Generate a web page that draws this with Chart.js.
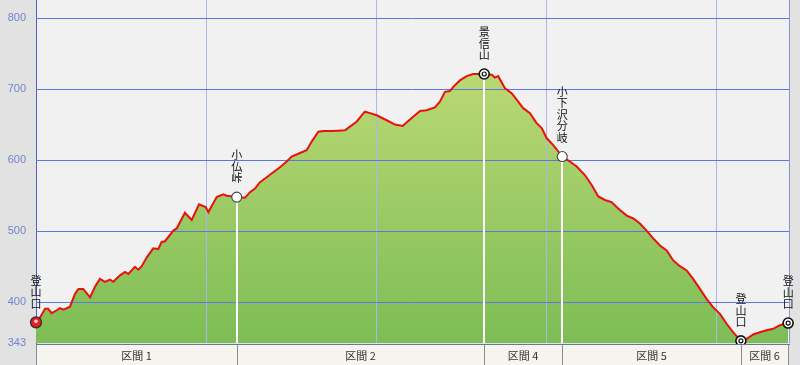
<!DOCTYPE html>
<html>
<head>
<meta charset="utf-8">
<script src="https://cdn.jsdelivr.net/npm/chart.js@4"></script>
<style>
	html, body { margin: 0; padding: 0; background: #e2e2e2; }
	canvas { display: block; }
</style>
</head>
<body>
<canvas id="profile" width="800" height="365"></canvas>
<script>
// distance (km) and elevation (m) along the route
var distKm = [0, 0.024, 0.053, 0.072, 0.092, 0.122, 0.141, 0.161, 0.2, 0.229, 0.249, 0.278, 0.318, 0.347, 0.376, 0.406, 0.435, 0.455, 0.494, 0.524, 0.543, 0.582, 0.602, 0.622, 0.651, 0.69, 0.719, 0.739, 0.759, 0.808, 0.828, 0.876, 0.916, 0.959, 0.998, 1.014, 1.063, 1.102, 1.122, 1.161, 1.181,
	1.229, 1.259, 1.288, 1.318, 1.357, 1.396, 1.435, 1.475, 1.504, 1.543, 1.592, 1.622, 1.661, 1.69, 1.749, 1.818, 1.847, 1.886, 1.916, 1.935, 1.965, 2.004, 2.063, 2.112, 2.157, 2.19, 2.219, 2.259, 2.298, 2.347, 2.376, 2.406, 2.435, 2.455, 2.494, 2.534, 2.572, 2.612, 2.637,
	2.681, 2.7, 2.719, 2.759, 2.798, 2.828, 2.866, 2.906, 2.945, 2.975, 3.004, 3.043, 3.096,
	3.141, 3.181, 3.229, 3.269, 3.308, 3.347, 3.386, 3.425, 3.475, 3.514, 3.553, 3.592, 3.631, 3.671, 3.71, 3.749, 3.788, 3.828, 3.866, 3.906, 3.945, 3.984, 4.024, 4.063, 4.102, 4.147,
	4.181, 4.219, 4.259, 4.298, 4.337, 4.376, 4.406, 4.425]
var elevM = [372, 379, 391, 391, 385, 389, 392, 390, 394, 412, 419, 419, 407, 422, 433, 429, 432, 429, 438, 443, 440, 450, 446, 451, 463, 476, 475, 485, 486, 501, 504, 526, 516, 538, 534, 527, 548, 552, 550, 549, 548,
	547, 555, 560, 569, 576, 583, 590, 598, 605, 609, 614, 626, 640, 641, 641, 642, 647, 654, 663, 668, 666, 663, 656, 650, 648, 655, 661, 669, 670, 674, 682, 696, 697, 703, 712, 718, 721, 721, 721,
	720, 716, 718, 701, 694, 685, 673, 666, 652, 645, 631, 621, 605,
	598, 591, 579, 565, 549, 544, 541, 532, 522, 518, 511, 501, 490, 480, 473, 459, 451, 445, 433, 419, 405, 393, 384, 370, 358, 346,
	349, 355, 358, 361, 363, 368, 370, 371]

var yTicks = [343, 400, 500, 600, 700, 800]
var xGridKm = [1, 2, 3, 4]

var wpNames = ['登山口', '小仏峠', '景信山', '小下沢分岐', '登山口', '登山口']
var wpDist = [0, 1.181, 2.637, 3.096, 4.147, 4.425]
var wpElev = [372, 548, 721, 605, 346, 371]
var wpMarks = ['start', 'o', 'oo', 'o', 'oo', 'oo']

var sectionNames = ['区間 1', '区間 2', '区間 4', '区間 5', '区間 6']

var jpFont = '"Noto Sans CJK JP", sans-serif'

var profilePlugin = {
	id: 'profile',
	beforeDraw: function(chart) {
		var c = chart.ctx, a = chart.chartArea
		c.save()
		c.fillStyle = '#f1f1f1'
		c.fillRect(a.left, a.top, a.right - a.left, a.bottom - a.top)
		c.restore()
	},
	// runs after the filler, so grid sits over the green area but under the line
	beforeDatasetsDraw: function(chart) {
		var c = chart.ctx, a = chart.chartArea
		var xs = chart.scales.x, ys = chart.scales.y
		c.save()
		c.lineWidth = 1
		c.strokeStyle = '#aab7ee'
		xGridKm.forEach(function(v) {
			var x = Math.round(xs.getPixelForValue(v)) + 0.5
			c.beginPath(); c.moveTo(x, a.top); c.lineTo(x, a.bottom); c.stroke()
		})
		c.strokeStyle = '#5b78e2'
		yTicks.slice(1).forEach(function(v) {
			var y = Math.round(ys.getPixelForValue(v)) + 0.5
			c.beginPath(); c.moveTo(a.left, y); c.lineTo(a.right, y); c.stroke()
		})
		c.strokeStyle = '#ffffff'
		c.lineWidth = 2
		for (var i = 1; i < wpDist.length - 1; i++) {
			var x = Math.round(xs.getPixelForValue(wpDist[i]))
			c.beginPath(); c.moveTo(x, ys.getPixelForValue(wpElev[i])); c.lineTo(x, a.bottom); c.stroke()
		}
		c.lineWidth = 1
		c.strokeStyle = '#8a96c8'
		c.beginPath(); c.moveTo(a.right + 0.5, a.top); c.lineTo(a.right + 0.5, a.bottom); c.stroke()
		c.restore()
	},
	afterDatasetsDraw: function(chart) {
		var c = chart.ctx
		var xs = chart.scales.x, ys = chart.scales.y
		c.save()
		for (var i = 0; i < wpDist.length; i++) {
			var x = xs.getPixelForValue(wpDist[i])
			var y = ys.getPixelForValue(wpElev[i])
			var m = wpMarks[i]
			if (m === 'start') {
				c.beginPath(); c.arc(x, y, 5.5, 0, Math.PI * 2)
				c.fillStyle = '#e02424'; c.fill()
				c.lineWidth = 1.2; c.strokeStyle = '#3a2626'; c.stroke()
				c.beginPath(); c.arc(x, y - 1, 1.8, 0, Math.PI * 2)
				c.fillStyle = '#ffd0d0'; c.fill()
			} else {
				c.beginPath(); c.arc(x, y, 5, 0, Math.PI * 2)
				c.fillStyle = '#ffffff'; c.fill()
				c.lineWidth = m === 'oo' ? 1.6 : 1.1
				c.strokeStyle = m === 'oo' ? '#111111' : '#444444'
				c.stroke()
				if (m === 'oo') {
					c.beginPath(); c.arc(x, y, 2, 0, Math.PI * 2)
					c.lineWidth = 1.2; c.stroke()
				}
			}
			// vertical label, one character per line
			var chars = wpNames[i].split('')
			c.fillStyle = '#111111'
			c.font = '11px ' + jpFont
			c.textAlign = 'center'
			c.textBaseline = 'middle'
			for (var k = 0; k < chars.length; k++) {
				var cy = y - 19 - (chars.length - 1 - k) * 11.5
				c.fillText(chars[k], x, cy)
			}
		}
		c.restore()
	},
	afterDraw: function(chart) {
		var c = chart.ctx, a = chart.chartArea
		var xs = chart.scales.x
		var top = a.bottom + 1, bottom = chart.height
		c.save()
		c.font = '11px ' + jpFont
		c.textAlign = 'center'
		c.textBaseline = 'middle'
		for (var i = 0; i < sectionNames.length; i++) {
			var x0 = Math.round(xs.getPixelForValue(wpDist[i]))
			var x1 = Math.round(xs.getPixelForValue(wpDist[i + 1]))
			c.fillStyle = '#f6f4ef'
			c.fillRect(x0, top, x1 - x0, bottom - top)
			c.strokeStyle = '#8c8c8c'
			c.lineWidth = 1
			c.strokeRect(x0 + 0.5, top + 0.5, x1 - x0, bottom - top)
			c.fillStyle = '#333333'
			c.fillText(sectionNames[i], (x0 + x1) / 2, (top + bottom) / 2 + 1)
		}
		c.strokeStyle = '#6c7796'
		c.beginPath(); c.moveTo(a.left, top + 0.5); c.lineTo(a.right + 1, top + 0.5); c.stroke()
		c.restore()
	}
}

var ctx = document.getElementById('profile')
var profileChart = new Chart(ctx, {
	type: 'line',
	data: {
		datasets: [{
			label: '標高',
			data: distKm.map(function(d, i) { return { x: d, y: elevM[i] } }),
			borderColor: '#e8120c',
			borderWidth: 2,
			pointRadius: 0,
			tension: 0,
			fill: 'start',
			backgroundColor: function(context) {
				var a = context.chart.chartArea
				if (!a) return '#9cc860'
				var g = context.chart.ctx.createLinearGradient(0, a.top, 0, a.bottom)
				g.addColorStop(0, '#cfe486')
				g.addColorStop(0.22, '#bad874')
				g.addColorStop(1, '#7dbd55')
				return g
			}
		}]
	},
	options: {
		responsive: false,
		animation: false,
		devicePixelRatio: 1,
		layout: { padding: { left: 0, right: 11, top: 0, bottom: 22 } },
		plugins: {
			legend: { display: false },
			tooltip: { enabled: false },
			filler: { drawTime: 'beforeDatasetsDraw' }
		},
		scales: {
			x: {
				type: 'linear',
				display: false,
				min: 0,
				max: 4.43
			},
			y: {
				min: 343,
				max: 825,
				grid: { display: false, drawTicks: false },
				border: { display: true, color: '#4b62d8', width: 1 },
				afterBuildTicks: function(scale) {
					scale.ticks = yTicks.map(function(v) { return { value: v } })
				},
				afterFit: function(scale) {
					scale.width = 36
					scale.paddingTop = 0
					scale.paddingBottom = 0
				},
				ticks: {
					padding: 10,
					color: '#7285c8',
					font: { family: '"Liberation Sans", sans-serif', size: 11 },
					autoSkip: false
				}
			}
		}
	},
	plugins: [profilePlugin]
})
</script>
</body>
</html>
